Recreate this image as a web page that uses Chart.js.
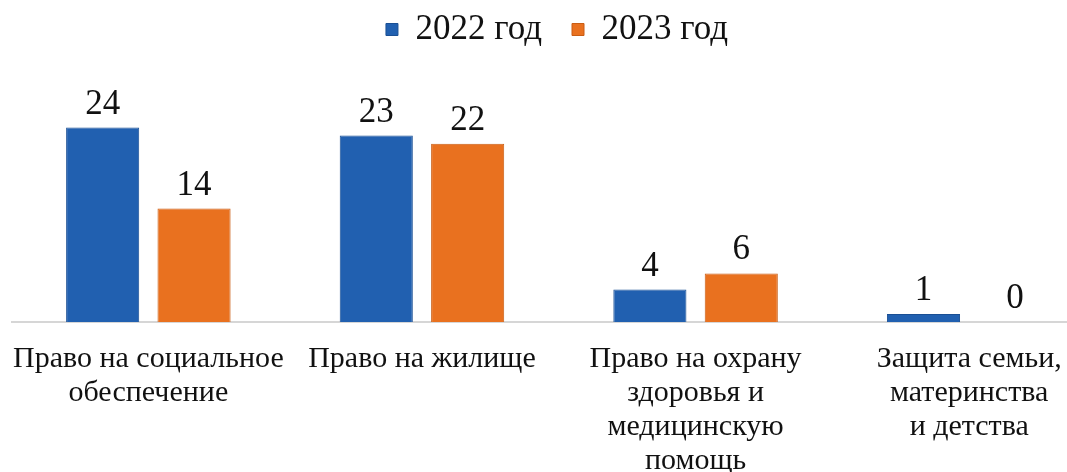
<!DOCTYPE html>
<html>
<head>
<meta charset="utf-8">
<script src="https://cdn.jsdelivr.net/npm/chart.js@4"></script>
<style>
  html, body { margin: 0; padding: 0; background: #fff; overflow: hidden; }
  #wrap { width: 1116px; height: 491px; position: relative; }
</style>
</head>
<body>
<div id="wrap"><canvas id="chart"></canvas></div>
<script>
// chart data
let categories = [
    ['Право на социальное', 'обеспечение'],
    ['Право на жилище'],
    ['Право на охрану', 'здоровья и', 'медицинскую', 'помощь'],
    ['Защита семьи,', 'материнства', 'и детства']
];
let seriesNames = ['2022 год', '2023 год'];
let values2022 = [24, 23, 4, 1];
let values2023 = [14, 22, 6, 0];

let serif = '"Liberation Serif", "Times New Roman", serif';

// values above the bars
let valueLabels = {
    id: 'valueLabels',
    afterDatasetsDraw(chart) {
        let ctx = chart.ctx;
        ctx.save();
        ctx.font = '35px ' + serif;
        ctx.fillStyle = '#111';
        ctx.textAlign = 'center';
        ctx.textBaseline = 'alphabetic';
        chart.data.datasets.forEach((ds, i) => {
            chart.getDatasetMeta(i).data.forEach((bar, j) => {
                ctx.fillText(ds.data[j], bar.x, bar.y - 14);
            });
        });
        ctx.restore();
    }
};

let ctx = document.getElementById('chart').getContext('2d');
let chart = new Chart(ctx, {
    type: 'bar',
    data: {
        labels: categories,
        datasets: [{
            label: seriesNames[0],
            data: values2022,
            backgroundColor: '#2160b0',
            borderColor: '#1a4f94',
            borderWidth: 1
        }, {
            label: seriesNames[1],
            data: values2023,
            backgroundColor: '#e9711f',
            borderColor: '#c95d14',
            borderWidth: 1
        }]
    },
    options: {
        responsive: true,
        maintainAspectRatio: false,
        animation: false,
        categoryPercentage: 0.668,
        barPercentage: 0.8,
        layout: { padding: { left: 8, right: 10, top: -18, bottom: 1 } },
        plugins: {
            legend: {
                position: 'top',
                labels: {
                    boxWidth: 12,
                    boxHeight: 12,
                    padding: 30,
                    color: '#111',
                    font: { family: serif, size: 35 }
                }
            },
            tooltip: { enabled: false }
        },
        scales: {
            x: {
                grid: { display: false },
                border: { display: true, color: '#d6d6d6', width: 2 },
                ticks: {
                    color: '#111',
                    padding: 12,
                    maxRotation: 0,
                    autoSkip: false,
                    font: { family: serif, size: 30, lineHeight: 1.133 }
                }
            },
            y: {
                display: false,
                min: 0,
                max: 32.7
            }
        }
    },
    plugins: [valueLabels]
});
</script>
</body>
</html>
